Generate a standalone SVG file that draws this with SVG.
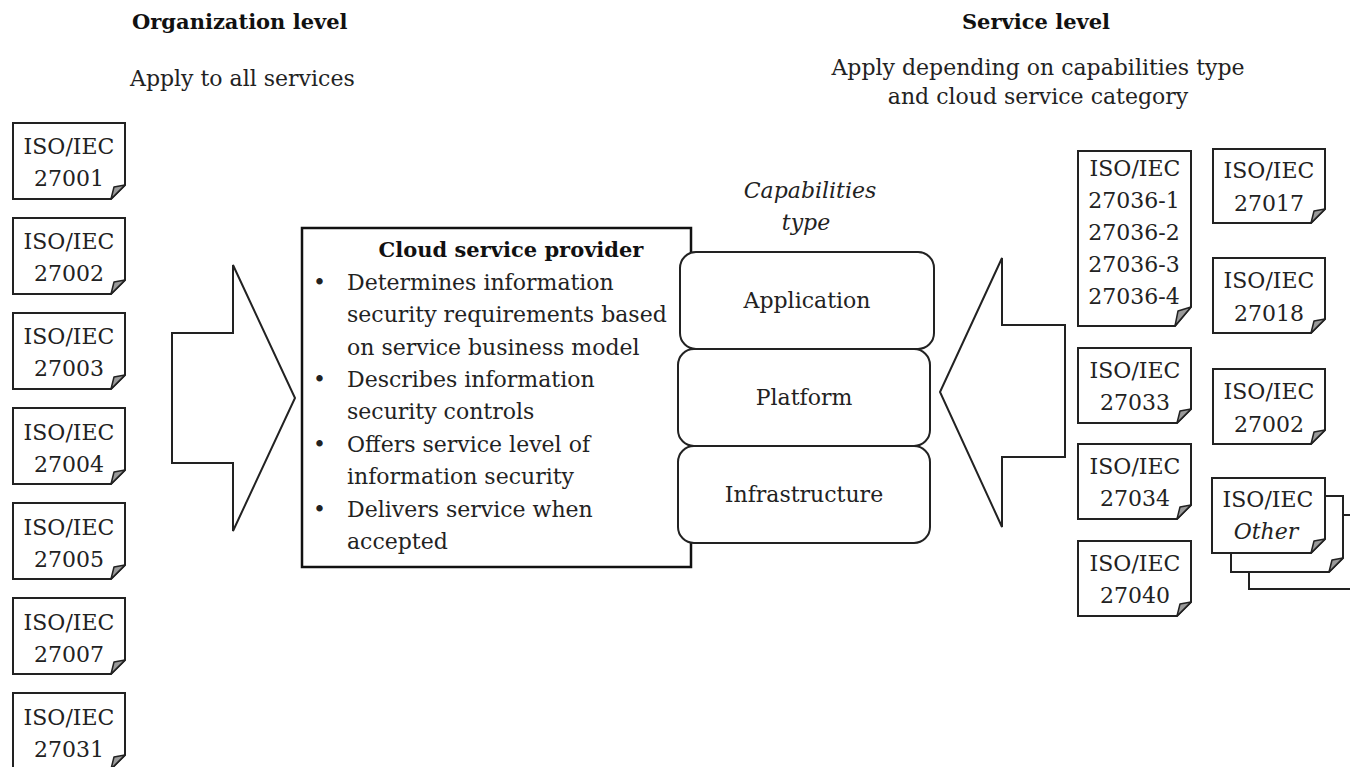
<svg xmlns="http://www.w3.org/2000/svg" width="1350" height="767" viewBox="0 0 1350 767">
  <style>
    text { font-family: "DejaVu Serif", "Liberation Serif", serif; font-size: 22px; fill: #222; }
    .hd { font-weight: bold; font-size: 21px; fill: #111; }
    .it { font-style: italic; }
    .mid { text-anchor: middle; }
    .doc { fill: #fff; stroke: #222; stroke-width: 2; stroke-linejoin: miter; }
    .fold { fill: #9a9a9a; stroke: #222; stroke-width: 1.5; stroke-linejoin: round; }
    .box { fill: #fff; stroke: #111; stroke-width: 2.5; }
    .cap { fill: #fff; stroke: #222; stroke-width: 2; }
    .blk { fill: #fff; stroke: #222; stroke-width: 2; stroke-linejoin: miter; }
  </style>

  <!-- headings -->
  <g id="headings">
    <text class="hd" x="132" y="29">Organization level</text>
    <text x="130" y="86">Apply to all services</text>
    <text class="hd mid" x="1036" y="29">Service level</text>
    <text class="mid" x="1038" y="75">Apply depending on capabilities type</text>
    <text class="mid" x="1038" y="104">and cloud service category</text>
  </g>

  <!-- organization-level standards -->
  <g id="doc-27001">
    <path class="doc" d="M13 123 H125 V185 L111 199 H13 Z"/>
    <path class="fold" d="M111 199 L114 187 L125 185 Z"/>
    <text class="mid" x="69" y="154">ISO/IEC</text>
    <text class="mid" x="69" y="186">27001</text>
  </g>
  <g id="doc-27002">
    <path class="doc" d="M13 218 H125 V280 L111 294 H13 Z"/>
    <path class="fold" d="M111 294 L114 282 L125 280 Z"/>
    <text class="mid" x="69" y="249">ISO/IEC</text>
    <text class="mid" x="69" y="281">27002</text>
  </g>
  <g id="doc-27003">
    <path class="doc" d="M13 313 H125 V375 L111 389 H13 Z"/>
    <path class="fold" d="M111 389 L114 377 L125 375 Z"/>
    <text class="mid" x="69" y="344">ISO/IEC</text>
    <text class="mid" x="69" y="376">27003</text>
  </g>
  <g id="doc-27004">
    <path class="doc" d="M13 408 H125 V470 L111 484 H13 Z"/>
    <path class="fold" d="M111 484 L114 472 L125 470 Z"/>
    <text class="mid" x="69" y="440">ISO/IEC</text>
    <text class="mid" x="69" y="472">27004</text>
  </g>
  <g id="doc-27005">
    <path class="doc" d="M13 503 H125 V565 L111 579 H13 Z"/>
    <path class="fold" d="M111 579 L114 567 L125 565 Z"/>
    <text class="mid" x="69" y="535">ISO/IEC</text>
    <text class="mid" x="69" y="567">27005</text>
  </g>
  <g id="doc-27007">
    <path class="doc" d="M13 598 H125 V660 L111 674 H13 Z"/>
    <path class="fold" d="M111 674 L114 662 L125 660 Z"/>
    <text class="mid" x="69" y="630">ISO/IEC</text>
    <text class="mid" x="69" y="662">27007</text>
  </g>
  <g id="doc-27031">
    <path class="doc" d="M13 693 H125 V755 L111 769 H13 Z"/>
    <path class="fold" d="M111 769 L114 757 L125 755 Z"/>
    <text class="mid" x="69" y="725">ISO/IEC</text>
    <text class="mid" x="69" y="757">27031</text>
  </g>

  <!-- block arrows -->
  <g id="connectors">
    <polygon class="blk" points="172,333 233,333 233,265 295,398 233,531 233,463 172,463"/>
    <polygon class="blk" points="1065,325 1002,325 1002,258 940,392 1002,527 1002,457 1065,457"/>
  </g>

  <!-- provider box -->
  <g id="cloud-service-provider">
    <rect class="box" x="302" y="228" width="389" height="339"/>
    <text class="hd mid" x="511" y="257">Cloud service provider</text>
    <g>
      <text x="313" y="290">•</text>
      <text x="347" y="290">Determines information</text>
      <text x="347" y="322">security requirements based</text>
      <text x="347" y="355">on service business model</text>
      <text x="313" y="387">•</text>
      <text x="347" y="387">Describes information</text>
      <text x="347" y="419">security controls</text>
      <text x="313" y="452">•</text>
      <text x="347" y="452">Offers service level of</text>
      <text x="347" y="484">information security</text>
      <text x="313" y="517">•</text>
      <text x="347" y="517">Delivers service when</text>
      <text x="347" y="549">accepted</text>
    </g>
  </g>

  <!-- capabilities type -->
  <g id="capabilities-label">
    <text class="it mid" x="810" y="198">Capabilities</text>
    <text class="it mid" x="806" y="230">type</text>
  </g>
  <g id="cap-application">
    <rect class="cap" x="680" y="252" width="254" height="97" rx="16"/>
    <text class="mid" x="807" y="308">Application</text>
  </g>
  <g id="cap-platform">
    <rect class="cap" x="678" y="349" width="252" height="97" rx="16"/>
    <text class="mid" x="804" y="405">Platform</text>
  </g>
  <g id="cap-infrastructure">
    <rect class="cap" x="678" y="446" width="252" height="97" rx="16"/>
    <text class="mid" x="804" y="502">Infrastructure</text>
  </g>

  <!-- service-level standards -->
  <g id="doc-27036">
    <path class="doc" d="M1078 151 H1191 V307 L1175 326 H1078 Z"/>
    <path class="fold" d="M1175 326 L1178 311 L1191 307 Z"/>
    <text class="mid" x="1135" y="176">ISO/IEC</text>
    <text class="mid" x="1134" y="208">27036-1</text>
    <text class="mid" x="1134" y="240">27036-2</text>
    <text class="mid" x="1134" y="272">27036-3</text>
    <text class="mid" x="1134" y="304">27036-4</text>
  </g>
  <g id="doc-27033">
    <path class="doc" d="M1078 348 H1191 V409 L1177 423 H1078 Z"/>
    <path class="fold" d="M1177 423 L1180 411 L1191 409 Z"/>
    <text class="mid" x="1135" y="378">ISO/IEC</text>
    <text class="mid" x="1135" y="410">27033</text>
  </g>
  <g id="doc-27034">
    <path class="doc" d="M1078 444 H1191 V505 L1177 519 H1078 Z"/>
    <path class="fold" d="M1177 519 L1180 507 L1191 505 Z"/>
    <text class="mid" x="1135" y="474">ISO/IEC</text>
    <text class="mid" x="1135" y="506">27034</text>
  </g>
  <g id="doc-27040">
    <path class="doc" d="M1078 541 H1191 V602 L1177 616 H1078 Z"/>
    <path class="fold" d="M1177 616 L1180 604 L1191 602 Z"/>
    <text class="mid" x="1135" y="571">ISO/IEC</text>
    <text class="mid" x="1135" y="603">27040</text>
  </g>
  <g id="doc-27017">
    <path class="doc" d="M1213 149 H1325 V209 L1311 223 H1213 Z"/>
    <path class="fold" d="M1311 223 L1314 211 L1325 209 Z"/>
    <text class="mid" x="1269" y="178">ISO/IEC</text>
    <text class="mid" x="1269" y="211">27017</text>
  </g>
  <g id="doc-27018">
    <path class="doc" d="M1213 258 H1325 V319 L1311 333 H1213 Z"/>
    <path class="fold" d="M1311 333 L1314 321 L1325 319 Z"/>
    <text class="mid" x="1269" y="288">ISO/IEC</text>
    <text class="mid" x="1269" y="321">27018</text>
  </g>
  <g id="doc-27002-service">
    <path class="doc" d="M1213 369 H1325 V430 L1311 444 H1213 Z"/>
    <path class="fold" d="M1311 444 L1314 432 L1325 430 Z"/>
    <text class="mid" x="1269" y="399">ISO/IEC</text>
    <text class="mid" x="1269" y="432">27002</text>
  </g>
  <g id="doc-other">
    <path class="doc" d="M1249 515 H1361 V589 H1249 Z"/>
    <path class="doc" d="M1231 496 H1343 V558 L1329 572 H1231 Z"/>
    <path class="fold" d="M1329 572 L1332 560 L1343 558 Z"/>
    <path class="doc" d="M1212 478 H1325 V539 L1311 553 H1212 Z"/>
    <path class="fold" d="M1311 553 L1314 541 L1325 539 Z"/>
    <text class="mid" x="1268" y="507">ISO/IEC</text>
    <text class="it mid" x="1266" y="539">Other</text>
  </g>
</svg>
